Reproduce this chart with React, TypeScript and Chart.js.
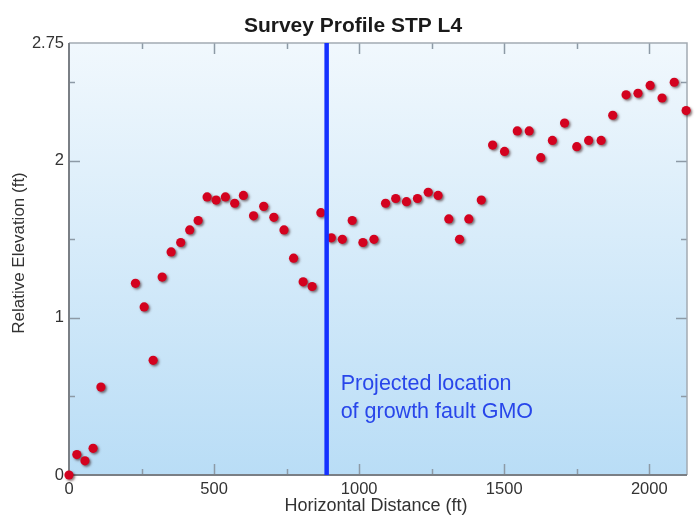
import React, { useEffect, useRef } from "react";
import { Chart, registerables } from "chart.js";

Chart.register(...registerables);

// Survey profile STP L4: relative elevation along the line
const chartTitle = "Survey Profile STP L4";
const xAxisTitle = "Horizontal Distance (ft)";
const yAxisTitle = "Relative Elevation (ft)";
const faultLabelLines = ["Projected location", "of growth fault GMO"];

const distances = [
  0, 27, 55, 83, 110, 229, 259, 290, 321, 352, 385, 416, 445, 476, 507, 539, 571, 601, 636, 671,
  706, 741, 774, 807, 838, 868, 904, 942, 976, 1013, 1051, 1091, 1126, 1163, 1201, 1238, 1272,
  1309, 1346, 1378, 1421, 1460, 1501, 1545, 1586, 1626, 1666, 1708, 1750, 1791, 1834, 1874, 1920,
  1961, 2003, 2044, 2086, 2127,
];
const elevations = [
  0, 0.13, 0.09, 0.17, 0.56, 1.22, 1.07, 0.73, 1.26, 1.42, 1.48, 1.56, 1.62, 1.77, 1.75, 1.77,
  1.73, 1.78, 1.65, 1.71, 1.64, 1.56, 1.38, 1.23, 1.2, 1.67, 1.51, 1.5, 1.62, 1.48, 1.5, 1.73,
  1.76, 1.74, 1.76, 1.8, 1.78, 1.63, 1.5, 1.63, 1.75, 2.1, 2.06, 2.19, 2.19, 2.02, 2.13, 2.24,
  2.09, 2.13, 2.13, 2.29, 2.42, 2.43, 2.48, 2.4, 2.5, 2.32,
];

// projected fault position (ft) and where its label sits (elevation of first baseline)
const faultDistance = 888;
const faultLabelElevation = 0.54;

const xMin = 0;
const xMax = 2130;
const yMin = 0;
const yMax = 2.75;

const xTickValues = [0, 250, 500, 750, 1000, 1250, 1500, 1750, 2000];
const xLabelValues = [0, 500, 1000, 1500, 2000];
const yTickValues = [0, 0.5, 1, 1.5, 2, 2.5, 2.75];
const yLabelValues = [0, 1, 2, 2.75];

const SANS = "'Liberation Sans', Arial, Helvetica, sans-serif";

const backgroundPlugin = {
  id: "plotBackground",
  beforeDraw(chart: any) {
    const { ctx, chartArea: a } = chart;
    const g = ctx.createLinearGradient(0, a.top, 0, a.bottom);
    g.addColorStop(0, "#f1f8fd");
    g.addColorStop(1, "#b9ddf6");
    ctx.save();
    ctx.fillStyle = g;
    ctx.fillRect(a.left, a.top, a.right - a.left, a.bottom - a.top);
    ctx.restore();
  },
};

const framePlugin = {
  id: "plotFrame",
  beforeDatasetsDraw(chart: any) {
    const { ctx, chartArea: a, scales } = chart;
    const xs = scales.x;
    const ys = scales.y;
    ctx.save();
    ctx.strokeStyle = "#8d9aa6";
    ctx.lineWidth = 1.5;
    ctx.beginPath();
    xTickValues.forEach((v) => {
      if (v === xMin) return;
      const px = Math.round(xs.getPixelForValue(v)) + 0.5;
      const len = xLabelValues.includes(v) ? 11 : 6;
      ctx.moveTo(px, a.bottom);
      ctx.lineTo(px, a.bottom - len);
      ctx.moveTo(px, a.top);
      ctx.lineTo(px, a.top + len);
    });
    yTickValues.forEach((v) => {
      if (v === yMin || v === yMax) return;
      const py = Math.round(ys.getPixelForValue(v)) + 0.5;
      const len = yLabelValues.includes(v) ? 11 : 6;
      ctx.moveTo(a.left, py);
      ctx.lineTo(a.left + len, py);
      ctx.moveTo(a.right, py);
      ctx.lineTo(a.right - len, py);
    });
    ctx.stroke();

    // top and right edges
    ctx.strokeStyle = "#a3abb3";
    ctx.lineWidth = 1.5;
    ctx.beginPath();
    ctx.moveTo(a.left, a.top);
    ctx.lineTo(a.right, a.top);
    ctx.lineTo(a.right, a.bottom);
    ctx.stroke();

    // left and bottom axes
    ctx.strokeStyle = "#7a7f85";
    ctx.lineWidth = 2;
    ctx.beginPath();
    ctx.moveTo(a.left, a.top);
    ctx.lineTo(a.left, a.bottom);
    ctx.lineTo(a.right, a.bottom);
    ctx.stroke();
    ctx.restore();
  },
};

const shadowPlugin = {
  id: "pointShadow",
  beforeDatasetDraw(chart: any, args: any) {
    if (args.index !== 1) return;
    const ctx = chart.ctx;
    ctx.save();
    ctx.shadowColor = "rgba(40, 0, 0, 0.55)";
    ctx.shadowBlur = 2.5;
    ctx.shadowOffsetX = 1.5;
    ctx.shadowOffsetY = 1.5;
  },
  afterDatasetDraw(chart: any, args: any) {
    if (args.index !== 1) return;
    chart.ctx.restore();
  },
};

const textPlugin = {
  id: "chartTexts",
  afterDraw(chart: any) {
    const { ctx, chartArea: a, scales } = chart;
    ctx.save();
    ctx.fillStyle = "#1a1a1a";
    ctx.textAlign = "center";
    ctx.textBaseline = "alphabetic";
    ctx.font = `bold 21px ${SANS}`;
    ctx.fillText(chartTitle, 353, 32);

    ctx.fillStyle = "#333333";
    ctx.font = `18px ${SANS}`;
    ctx.fillText(xAxisTitle, (a.left + a.right) / 2 - 2, 511);

    ctx.save();
    ctx.translate(23.5, 253);
    ctx.rotate(-Math.PI / 2);
    ctx.font = `17px ${SANS}`;
    ctx.fillText(yAxisTitle, 0, 0);
    ctx.restore();

    // fault annotation
    const fx = scales.x.getPixelForValue(faultDistance) + 14;
    const fy = scales.y.getPixelForValue(faultLabelElevation);
    ctx.fillStyle = "#2846ea";
    ctx.textAlign = "left";
    ctx.font = `21.5px ${SANS}`;
    faultLabelLines.forEach((line, i) => ctx.fillText(line, fx, fy + i * 28));
    ctx.restore();
  },
};

export default function App() {
  const canvasRef = useRef<HTMLCanvasElement | null>(null);

  useEffect(() => {
    const canvas = canvasRef.current;
    if (!canvas) return;
    const points = distances.map((d, i) => ({ x: d, y: elevations[i] }));

    const chart = new Chart(canvas, {
      type: "scatter",
      data: {
        datasets: [
          {
            type: "line",
            data: [
              { x: faultDistance, y: yMin },
              { x: faultDistance, y: yMax },
            ],
            borderColor: "#1531ff",
            borderWidth: 4.5,
            pointRadius: 0,
            showLine: true,
            fill: false,
            clip: false,
          } as any,
          {
            data: points,
            backgroundColor: "#d3021f",
            borderWidth: 0,
            pointRadius: 4.6,
            pointHoverRadius: 4.6,
            clip: false,
          } as any,
        ],
      },
      options: {
        responsive: false,
        animation: false,
        devicePixelRatio: 1,
        layout: { padding: { top: 43, right: 9, left: 0, bottom: 0 } },
        plugins: {
          legend: { display: false },
          title: { display: false },
          tooltip: { enabled: false },
        },
        events: [],
        scales: {
          x: {
            type: "linear",
            min: xMin,
            max: xMax,
            grid: { display: false, drawTicks: false },
            border: { display: false },
            afterBuildTicks: (scale: any) => {
              scale.ticks = xTickValues.map((v) => ({ value: v }));
            },
            afterFit: (scale: any) => {
              scale.height = 43;
            },
            ticks: {
              autoSkip: false,
              maxRotation: 0,
              padding: 5,
              color: "#333333",
              font: { family: SANS, size: 16.5 },
              callback: (v: any) => (xLabelValues.includes(Number(v)) ? String(v) : ""),
            },
          },
          y: {
            type: "linear",
            min: yMin,
            max: yMax,
            grid: { display: false, drawTicks: false },
            border: { display: false },
            afterBuildTicks: (scale: any) => {
              scale.ticks = yTickValues.map((v) => ({ value: v }));
            },
            afterFit: (scale: any) => {
              scale.width = 69;
            },
            ticks: {
              autoSkip: false,
              padding: 5,
              color: "#333333",
              font: { family: SANS, size: 16.5 },
              callback: (v: any) => (yLabelValues.includes(Number(v)) ? String(v) : ""),
            },
          },
        },
      },
      plugins: [backgroundPlugin, framePlugin, shadowPlugin, textPlugin],
    });

    return () => chart.destroy();
  }, []);

  return (
    <div style={{ position: "absolute", left: 0, top: 0, width: 696, height: 518, background: "#ffffff" }}>
      <canvas ref={canvasRef} width={696} height={518} style={{ display: "block" }} />
    </div>
  );
}
